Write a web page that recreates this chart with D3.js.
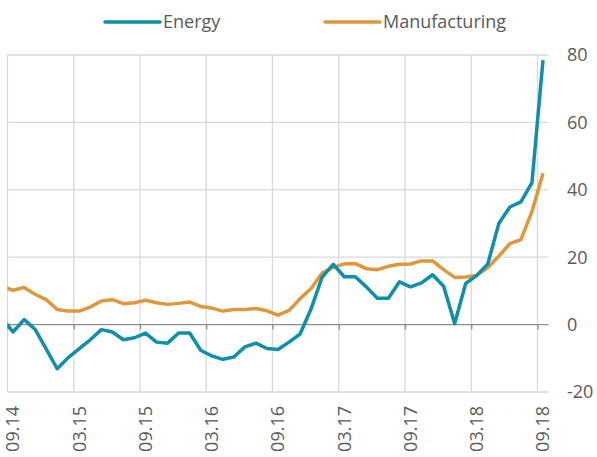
<!DOCTYPE html>
<html>
<head>
<meta charset="utf-8">
<script src="https://cdnjs.cloudflare.com/ajax/libs/d3/7.8.5/d3.min.js"></script>
<style>
  body { margin: 0; background: #fff; }
  svg text { font-family: "Open Sans", "Noto Sans", sans-serif; fill: #5a5a5a; }
</style>
</head>
<body>
<div id="chart"></div>
<script>
// monthly observations, first one (08.14) sits just left of the plot and gets clipped
var months = ['08.14', '09.14', '10.14', '11.14', '12.14', '01.15', '02.15', '03.15', '04.15', '05.15',
  '06.15', '07.15', '08.15', '09.15', '10.15', '11.15', '12.15', '01.16', '02.16', '03.16',
  '04.16', '05.16', '06.16', '07.16', '08.16', '09.16', '10.16', '11.16', '12.16', '01.17',
  '02.17', '03.17', '04.17', '05.17', '06.17', '07.17', '08.17', '09.17', '10.17', '11.17',
  '12.17', '01.18', '02.18', '03.18', '04.18', '05.18', '06.18', '07.18', '08.18', '09.18'];

var energy = [2.0, -2.2, 1.5, -1.4, -7.2, -13.1, -9.8, -7.1, -4.5, -1.5,
  -2.2, -4.5, -3.9, -2.5, -5.2, -5.5, -2.5, -2.5, -7.6, -9.3,
  -10.3, -9.6, -6.6, -5.5, -7.1, -7.4, -5.2, -2.8, 4.7, 14.1,
  17.9, 14.2, 14.2, 11.2, 7.8, 7.8, 12.7, 11.2, 12.4, 14.8,
  11.4, 0.3, 12.2, 14.6, 18.0, 30.0, 34.9, 36.4, 42.1, 78.5];

var manufacturing = [11.3, 10.2, 11.0, 9.0, 7.4, 4.5, 4.0, 4.0, 5.2, 7.0,
  7.4, 6.2, 6.5, 7.2, 6.5, 6.0, 6.3, 6.7, 5.4, 4.9,
  4.0, 4.5, 4.5, 4.8, 4.1, 2.8, 4.2, 7.7, 10.7, 15.3,
  17.0, 18.0, 18.1, 16.6, 16.3, 17.3, 17.9, 18.0, 18.9, 18.9,
  16.3, 14.0, 14.1, 14.6, 16.9, 20.3, 24.0, 25.2, 33.5, 44.9];

var tickLabels = ['09.14', '03.15', '09.15', '03.16', '09.16', '03.17', '09.17', '03.18', '09.18'];
var yTicks = [-20, 0, 20, 40, 60, 80];

var series = [
  { name: 'Energy', values: energy, color: '#0f8fab' },
  { name: 'Manufacturing', values: manufacturing, color: '#e0973a' }
];

var WIDTH = 597, HEIGHT = 457;
// note: can't call these top/left at global scope, window.top is read-only
var plotLeft = 7.5, plotRight = 548.5, plotTop = 55, plotBottom = 392;

var svg = d3.select('#chart').append('svg')
  .attr('width', WIDTH)
  .attr('height', HEIGHT);

// x is in months since 09.14, points sit mid-month
var x = d3.scaleLinear().domain([0, 49]).range([plotLeft, plotRight]);
var y = d3.scaleLinear().domain([-20, 80]).range([plotBottom, plotTop]);

function monthPos(i) { return i - 1 + 0.5; } // index 0 is 08.14
function tickPos(label) { return months.indexOf(label) - 1; }

// horizontal gridlines (zero gets the darker axis line later)
svg.append('g').selectAll('line')
  .data(yTicks.filter(function(d) { return d !== 0; }))
  .enter().append('line')
  .attr('x1', plotLeft).attr('x2', plotRight)
  .attr('y1', function(d) { return y(d); })
  .attr('y2', function(d) { return y(d); })
  .attr('stroke', '#d9d9d9')
  .attr('stroke-width', 1.3);

// vertical gridlines every six months
svg.append('g').selectAll('line')
  .data(tickLabels)
  .enter().append('line')
  .attr('x1', function(d) { return x(tickPos(d)); })
  .attr('x2', function(d) { return x(tickPos(d)); })
  .attr('y1', plotTop).attr('y2', plotBottom)
  .attr('stroke', '#d9d9d9')
  .attr('stroke-width', 1.3);

// zero line with little tick marks
var xAxis = d3.axisBottom(x)
  .tickValues(tickLabels.map(tickPos))
  .tickSize(5)
  .tickFormat('');
var axisG = svg.append('g')
  .attr('transform', 'translate(0,' + y(0) + ')')
  .call(xAxis);
axisG.select('.domain').attr('stroke', '#8c8c8c').attr('stroke-width', 1.3)
  .attr('d', 'M' + plotLeft + ',0H' + plotRight);
axisG.selectAll('.tick line').attr('stroke', '#8c8c8c').attr('stroke-width', 1.3);

// rotated month labels
svg.append('g').selectAll('text')
  .data(tickLabels)
  .enter().append('text')
  .attr('transform', function(d) {
    return 'translate(' + x(tickPos(d) + 0.5) + ',406) rotate(-90)';
  })
  .attr('dy', '0.35em')
  .attr('text-anchor', 'end')
  .style('font-size', '18px')
  .text(function(d) { return d; });

// right hand value axis
svg.append('g').selectAll('text')
  .data(yTicks)
  .enter().append('text')
  .attr('x', 567)
  .attr('y', function(d) { return y(d); })
  .attr('dy', '0.35em')
  .style('font-size', '18px')
  .text(function(d) { return d; });

// clip so the 08.14 point only shows as the stub at the left edge
svg.append('clipPath').attr('id', 'plotClip')
  .append('rect')
  .attr('x', plotLeft).attr('y', 0)
  .attr('width', plotRight - plotLeft).attr('height', HEIGHT);

var line = d3.line()
  .x(function(d, i) { return x(monthPos(i)); })
  .y(function(d) { return y(d); });

svg.append('g').attr('clip-path', 'url(#plotClip)')
  .selectAll('path')
  .data(series.slice().reverse()) // energy drawn on top
  .enter().append('path')
  .attr('d', function(s) { return line(s.values); })
  .attr('fill', 'none')
  .attr('stroke', function(s) { return s.color; })
  .attr('stroke-width', 3.5)
  .attr('stroke-linejoin', 'round');

// legend
var legendX = [105, 325];
var legend = svg.append('g').selectAll('g')
  .data(series)
  .enter().append('g')
  .attr('transform', function(d, i) { return 'translate(' + legendX[i] + ',22)'; });
legend.append('line')
  .attr('x1', 0).attr('x2', 55)
  .attr('stroke', function(d) { return d.color; })
  .attr('stroke-width', 3.5)
  .attr('stroke-linecap', 'round');
legend.append('text')
  .attr('x', 58)
  .attr('dy', '0.35em')
  .style('font-size', '18px')
  .text(function(d) { return d.name; });
</script>
</body>
</html>
